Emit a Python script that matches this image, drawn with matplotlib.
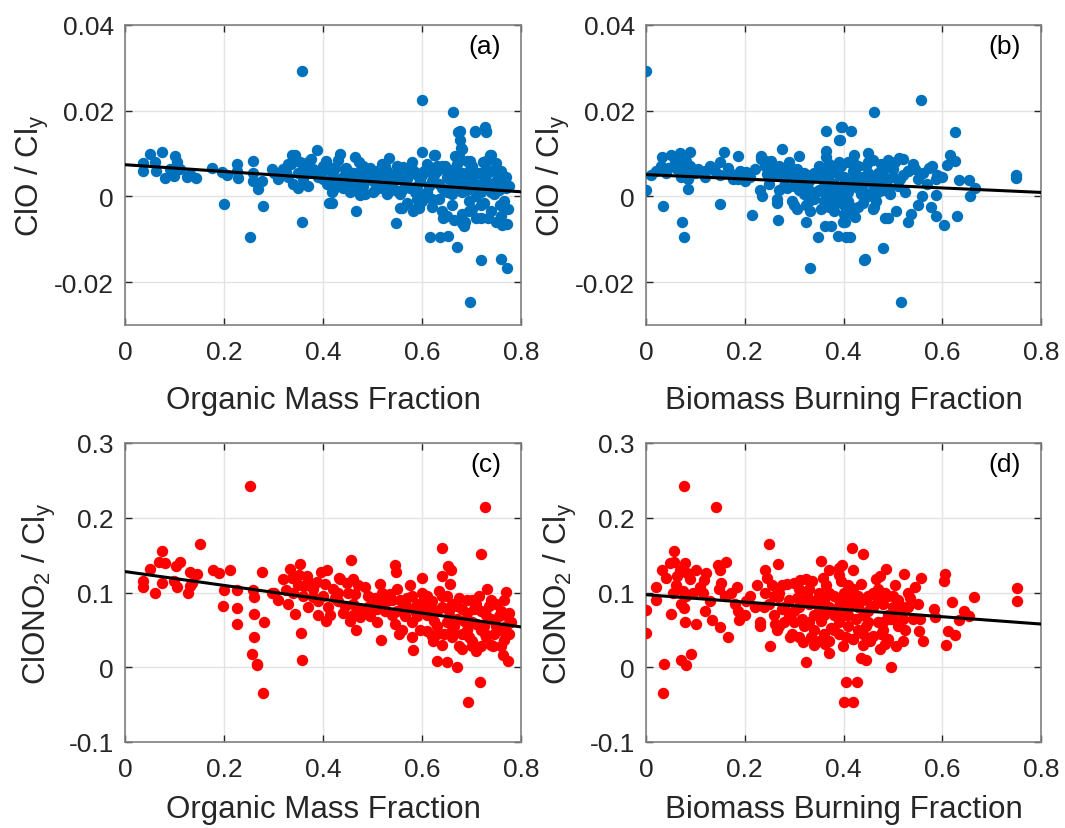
import numpy as np
import matplotlib
matplotlib.use("Agg")
import matplotlib.pyplot as plt

plt.rcParams['font.family'] = ['Liberation Sans', 'DejaVu Sans']
plt.rcParams['mathtext.fontset'] = 'custom'
plt.rcParams['mathtext.rm'] = 'Liberation Sans'
plt.rcParams['mathtext.it'] = 'Liberation Sans'

# ---------------- data ----------------
xticks = [0, 0.2, 0.4, 0.6, 0.8]
xticklabels = ["0", "0.2", "0.4", "0.6", "0.8"]
clo_ticks = [-0.02, 0, 0.02, 0.04]
clo_ticklabels = ["-0.02", "0", "0.02", "0.04"]
clono2_ticks = [-0.1, 0, 0.1, 0.2, 0.3]
clono2_ticklabels = ["-0.1", "0", "0.1", "0.2", "0.3"]

# (a) Organic mass fraction vs ClO/Cly
omf_clo = [
    (0.357, 0.0292), (0.0505, 0.0099), (0.074, 0.0104), (0.101, 0.0094), (0.105, 0.0080),
    (0.036, 0.0077), (0.036, 0.0060), (0.060, 0.0080), (0.063, 0.0060), (0.081, 0.0043),
    (0.091, 0.0064), (0.098, 0.0048), (0.111, 0.0064), (0.125, 0.0046), (0.131, 0.0052),
    (0.143, 0.0044), (0.176, 0.0066), (0.195, 0.0056), (0.200, -0.0018), (0.207, 0.0050),
    (0.226, 0.0076), (0.226, 0.0060), (0.229, 0.0043), (0.253, -0.0095), (0.258, 0.0083),
    (0.259, 0.0054), (0.258, 0.0035), (0.268, 0.0017), (0.277, 0.0035), (0.279, -0.0022),
    (0.296, 0.0064), (0.325, 0.0056), (0.335, 0.0076), (0.338, 0.0097), (0.343, 0.0097),
    (0.354, 0.0080), (0.357, -0.0060), (0.361, 0.0069), (0.361, 0.0050), (0.375, 0.0087),
    (0.387, 0.0108), (0.380, 0.0056), (0.401, 0.0041), (0.407, 0.0083), (0.408, 0.0030),
    (0.413, -0.0016), (0.599, 0.0226), (0.663, 0.0198), (0.676, 0.0152), (0.676, 0.0132),
    (0.680, 0.0111), (0.707, 0.0152), (0.727, 0.0161), (0.730, 0.0152), (0.601, 0.0104),
    (0.624, 0.0097), (0.675, 0.0094), (0.697, 0.0083), (0.738, 0.0097), (0.749, 0.0079),
    (0.730, 0.0082), (0.534, 0.0090), (0.465, 0.0091), (0.473, 0.0081), (0.434, 0.0099),
    (0.431, 0.0085), (0.424, 0.0066), (0.447, 0.0066), (0.495, 0.0066), (0.515, 0.0052),
    (0.562, 0.0066), (0.586, 0.0056), (0.630, 0.0071), (0.650, 0.0060), (0.704, 0.0052),
    (0.764, 0.0037), (0.418, -0.0016), (0.467, -0.0033), (0.475, 0.0003), (0.547, -0.0062),
    (0.555, -0.0027), (0.586, -0.0030), (0.616, -0.0095), (0.636, -0.0094), (0.653, -0.0092),
    (0.670, -0.0119), (0.685, -0.0068), (0.664, -0.0055), (0.719, -0.0148), (0.760, -0.0145),
    (0.771, -0.0168), (0.697, -0.0246), (0.761, -0.0066), (0.772, -0.0064), (0.774, -0.0030),
    (0.763, -0.0020), (0.720, -0.0051), (0.733, -0.0051), (0.680, -0.0063), (0.694, -0.0035),
    (0.593, -0.0026), (0.673, 0.0151), (0.707, 0.0151), (0.729, 0.0151), (0.679, 0.0112),
    (0.626, 0.0097), (0.666, 0.0095), (0.740, 0.0097), (0.723, 0.0080), (0.690, 0.0083),
    (0.646, 0.0070), (0.562, 0.0069), (0.582, -0.0033), (0.559, -0.0028), (0.643, -0.0051),
    (0.687, -0.0060), (0.750, -0.0060), (0.767, -0.0065), (0.770, -0.0026), (0.757, -0.0019),
    (0.418, 0.0010), (0.412, 0.0069), (0.453, 0.0056),
    (0.44, 0.0045), (0.45, 0.0030), (0.46, 0.0055), (0.47, 0.0040), (0.48, 0.0025),
    (0.49, 0.0050), (0.50, 0.0035), (0.51, 0.0060), (0.52, 0.0020), (0.53, 0.0045),
    (0.54, 0.0030), (0.55, 0.0055), (0.56, 0.0015), (0.57, 0.0040), (0.58, 0.0065),
    (0.59, 0.0025), (0.60, 0.0050), (0.61, 0.0010), (0.62, 0.0035), (0.63, 0.0060),
    (0.64, 0.0020), (0.65, 0.0045), (0.66, 0.0005), (0.67, 0.0030), (0.68, 0.0055),
    (0.69, 0.0015), (0.70, 0.0040), (0.71, 0.0000), (0.72, 0.0025), (0.73, 0.0050),
    (0.74, 0.0010), (0.75, 0.0035), (0.76, 0.0060), (0.77, 0.0020),
    (0.445, 0.0065), (0.455, 0.0010), (0.465, 0.0035), (0.475, 0.0060), (0.485, 0.0005),
    (0.495, 0.0040), (0.505, 0.0015), (0.515, 0.0045), (0.525, 0.0070), (0.535, 0.0025),
    (0.545, 0.0050), (0.555, 0.0005), (0.565, 0.0030), (0.575, 0.0055), (0.585, 0.0010),
    (0.595, 0.0035), (0.605, 0.0060), (0.615, 0.0025), (0.625, 0.0050), (0.635, -0.0005),
    (0.645, 0.0015), (0.655, 0.0040), (0.665, 0.0065), (0.675, 0.0020), (0.685, 0.0045),
    (0.695, -0.0010), (0.705, 0.0025), (0.715, 0.0055), (0.725, -0.0015), (0.735, 0.0030),
    (0.745, 0.0005), (0.755, 0.0045), (0.765, -0.0010), (0.775, 0.0025),
    (0.57, -0.0015), (0.60, -0.0010), (0.62, -0.0025), (0.64, -0.0035), (0.66, -0.0020),
    (0.68, -0.0040), (0.70, -0.0030), (0.72, -0.0020), (0.74, -0.0035), (0.76, -0.0045),
    (0.59, -0.0005), (0.65, -0.0045), (0.71, -0.0050),
    (0.30, 0.0055), (0.31, 0.0040), (0.32, 0.0065), (0.33, 0.0045), (0.34, 0.0030),
    (0.35, 0.0055), (0.36, 0.0040), (0.37, 0.0025), (0.38, 0.0065), (0.39, 0.0045),
    (0.40, 0.0060), (0.41, 0.0030), (0.42, 0.0050), (0.43, 0.0035), (0.44, 0.0020),
    (0.33, 0.0075), (0.37, 0.0080), (0.40, 0.0070), (0.35, 0.0020), (0.42, 0.0015),
    (0.455, 0.0050), (0.47, 0.0020), (0.485, 0.0055), (0.50, 0.0010), (0.515, 0.0030),
    (0.53, 0.0060), (0.545, 0.0015), (0.56, 0.0040), (0.575, 0.0020), (0.59, 0.0050),
    (0.605, 0.0005), (0.62, 0.0055), (0.635, 0.0030), (0.65, 0.0010), (0.665, 0.0045),
    (0.68, 0.0010), (0.695, 0.0060), (0.71, 0.0030), (0.725, 0.0045), (0.74, 0.0060),
    (0.755, 0.0015), (0.77, 0.0045), (0.58, 0.0080), (0.61, 0.0075), (0.64, 0.0070),
    (0.67, 0.0075), (0.70, 0.0070), (0.73, 0.0065), (0.52, 0.0075), (0.55, 0.0070),
    (0.62, -0.0005), (0.66, 0.0025), (0.69, 0.0035), (0.72, 0.0010), (0.75, 0.0020),
    (0.53, 0.0005), (0.48, 0.0070),
]

# (b) Biomass burning fraction vs ClO/Cly
bbf_clo = [
    (0.000, 0.0292), (0.000, 0.0015), (0.021, 0.0060), (0.032, 0.0093), (0.050, 0.0097),
    (0.068, 0.0101), (0.090, 0.0103), (0.059, 0.0083), (0.072, 0.0080), (0.082, 0.0083),
    (0.044, 0.0066), (0.062, 0.0064), (0.079, 0.0060), (0.086, 0.0041), (0.085, 0.0017),
    (0.105, 0.0064), (0.119, 0.0060), (0.139, 0.0060), (0.149, 0.0080), (0.157, 0.0103),
    (0.166, 0.0066), (0.176, 0.0041), (0.186, 0.0095), (0.186, 0.0041), (0.203, 0.0056),
    (0.034, -0.0023), (0.072, -0.0060), (0.077, -0.0094), (0.150, -0.0018), (0.214, -0.0043),
    (0.232, 0.0095), (0.232, 0.0087), (0.243, 0.0082), (0.253, 0.0082), (0.275, 0.0110),
    (0.290, 0.0080), (0.309, 0.0095), (0.235, 0.0002), (0.245, 0.0052), (0.267, -0.0054),
    (0.266, -0.0015), (0.300, -0.0019), (0.306, -0.0029), (0.325, -0.0060), (0.333, -0.0035),
    (0.348, -0.0094), (0.333, -0.0168), (0.365, 0.0152), (0.365, 0.0107), (0.365, 0.0092),
    (0.394, 0.0161), (0.391, 0.0132), (0.363, -0.0068), (0.375, -0.0068), (0.389, -0.0092),
    (0.399, -0.0060), (0.406, -0.0094), (0.556, 0.0226), (0.462, 0.0198), (0.396, 0.0161),
    (0.416, 0.0152), (0.393, 0.0132), (0.625, 0.0150), (0.615, 0.0097), (0.625, 0.0082),
    (0.610, 0.0074), (0.574, 0.0066), (0.590, 0.0050), (0.587, 0.0041), (0.750, 0.0051),
    (0.750, 0.0043), (0.633, 0.0038), (0.655, 0.0038), (0.667, 0.0020), (0.656, 0.0001),
    (0.588, 0.0004), (0.558, 0.0001), (0.551, -0.0019), (0.537, -0.0040), (0.530, -0.0060),
    (0.507, -0.0035), (0.484, -0.0050), (0.491, -0.0050), (0.461, -0.0025), (0.424, -0.0047),
    (0.404, -0.0060), (0.413, -0.0094), (0.578, -0.0025), (0.588, -0.0045), (0.604, -0.0066),
    (0.629, -0.0045), (0.480, -0.0120), (0.442, -0.0148), (0.443, -0.0145), (0.517, -0.0246),
    (0.520, 0.0087), (0.513, 0.0090), (0.497, 0.0076), (0.450, 0.0101), (0.421, 0.0097),
    (0.530, 0.0060), (0.545, 0.0064),
    (0.25, 0.0030), (0.26, 0.0050), (0.27, 0.0015), (0.28, 0.0040), (0.29, 0.0060),
    (0.30, 0.0025), (0.31, 0.0045), (0.32, 0.0005), (0.33, 0.0035), (0.34, 0.0055),
    (0.35, 0.0015), (0.36, 0.0040), (0.37, -0.0005), (0.38, 0.0030), (0.39, 0.0050),
    (0.40, 0.0010), (0.41, 0.0035), (0.42, 0.0060), (0.43, 0.0020), (0.44, 0.0045),
    (0.45, 0.0000), (0.46, 0.0030), (0.47, 0.0055), (0.48, 0.0015), (0.49, 0.0040),
    (0.50, 0.0065), (0.51, 0.0025), (0.52, 0.0050),
    (0.255, 0.0065), (0.265, -0.0005), (0.275, 0.0055), (0.285, 0.0020), (0.295, -0.0010),
    (0.305, 0.0065), (0.315, 0.0030), (0.325, -0.0020), (0.335, 0.0050), (0.345, 0.0010),
    (0.355, -0.0030), (0.365, 0.0060), (0.375, 0.0020), (0.385, -0.0015), (0.395, 0.0070),
    (0.405, 0.0025), (0.415, -0.0025), (0.425, 0.0050), (0.435, 0.0005), (0.445, 0.0070),
    (0.455, 0.0040), (0.465, -0.0010), (0.475, 0.0075), (0.485, 0.0035), (0.495, 0.0005),
    (0.505, 0.0080), (0.515, 0.0040), (0.525, 0.0010),
    (0.36, -0.0010), (0.37, 0.0075), (0.38, -0.0035), (0.39, 0.0020), (0.40, -0.0020),
    (0.41, 0.0080), (0.42, -0.0040), (0.43, 0.0070), (0.44, -0.0015), (0.36, 0.0025),
    (0.40, 0.0045), (0.44, 0.0030), (0.48, 0.0060), (0.46, 0.0085), (0.49, 0.0085),
    (0.47, 0.0010), (0.53, 0.0060), (0.54, 0.0075), (0.56, 0.0055), (0.58, 0.0070),
    (0.60, 0.0045), (0.55, 0.0040), (0.57, 0.0030),
    (0.01, 0.0050), (0.03, 0.0070), (0.04, 0.0055), (0.06, 0.0075), (0.07, 0.0045),
    (0.09, 0.0070), (0.10, 0.0055), (0.12, 0.0045), (0.13, 0.0070), (0.15, 0.0050),
    (0.17, 0.0055), (0.19, 0.0060), (0.21, 0.0045), (0.22, 0.0065), (0.24, 0.0070),
    (0.20, 0.0035), (0.23, 0.0015),
    (0.31, 0.0015), (0.32, 0.0055), (0.33, 0.0015), (0.34, -0.0005), (0.35, 0.0045),
    (0.36, 0.0010), (0.37, 0.0050), (0.38, 0.0060), (0.39, -0.0005), (0.40, 0.0030),
    (0.41, 0.0010), (0.42, 0.0025), (0.43, 0.0045), (0.44, 0.0010), (0.45, 0.0055),
    (0.46, 0.0015), (0.47, 0.0035), (0.48, 0.0045), (0.49, 0.0020), (0.50, 0.0045),
    (0.35, 0.0070), (0.39, 0.0080), (0.42, 0.0080), (0.45, 0.0080), (0.33, -0.0010),
    (0.37, -0.0025), (0.41, -0.0010), (0.43, -0.0025), (0.46, -0.0030), (0.40, -0.0040),
    (0.38, 0.0010), (0.30, 0.0040), (0.28, 0.0025), (0.29, 0.0075), (0.27, 0.0070),
]

# (c) Organic mass fraction vs ClONO2/Cly
omf_clono2 = [
    (0.253, 0.243), (0.152, 0.165), (0.075, 0.155), (0.068, 0.141), (0.081, 0.139),
    (0.111, 0.141), (0.104, 0.135), (0.0505, 0.131), (0.131, 0.128), (0.145, 0.125),
    (0.177, 0.130), (0.190, 0.126), (0.213, 0.130), (0.277, 0.127), (0.036, 0.116),
    (0.036, 0.107), (0.060, 0.100), (0.074, 0.113), (0.098, 0.116), (0.105, 0.108),
    (0.128, 0.099), (0.131, 0.109), (0.135, 0.113), (0.200, 0.103), (0.226, 0.103),
    (0.259, 0.103), (0.261, 0.094), (0.296, 0.099), (0.197, 0.082), (0.226, 0.079),
    (0.226, 0.058), (0.261, 0.071), (0.280, 0.060), (0.261, 0.040), (0.256, 0.018),
    (0.267, 0.005), (0.267, 0.003), (0.279, -0.034), (0.325, 0.103), (0.334, 0.132),
    (0.354, 0.138), (0.338, 0.120), (0.352, 0.124), (0.368, 0.122), (0.361, 0.109),
    (0.380, 0.094), (0.396, 0.128), (0.343, 0.071), (0.356, 0.046), (0.357, 0.010),
    (0.407, 0.062), (0.387, 0.114),
    (0.727, 0.214), (0.719, 0.152), (0.640, 0.160), (0.653, 0.135), (0.658, 0.130),
    (0.545, 0.137), (0.547, 0.127), (0.456, 0.143), (0.408, 0.130), (0.432, 0.120),
    (0.460, 0.118), (0.448, 0.113), (0.600, 0.119), (0.640, 0.122), (0.657, 0.112),
    (0.731, 0.105), (0.770, 0.101), (0.467, 0.050), (0.475, 0.067), (0.517, 0.036),
    (0.582, 0.023), (0.630, 0.009), (0.650, 0.007), (0.670, 0.000), (0.717, -0.020),
    (0.692, -0.046), (0.773, 0.008), (0.763, 0.016), (0.775, 0.073), (0.766, 0.036),
    (0.744, 0.029), (0.728, 0.045), (0.701, 0.029), (0.674, 0.029), (0.553, 0.045),
    (0.623, 0.035),
    (0.40, 0.095), (0.41, 0.080), (0.42, 0.105), (0.43, 0.088), (0.44, 0.072),
    (0.45, 0.100), (0.46, 0.085), (0.47, 0.110), (0.48, 0.075), (0.49, 0.095),
    (0.50, 0.082), (0.51, 0.060), (0.52, 0.100), (0.53, 0.088), (0.54, 0.070),
    (0.55, 0.105), (0.56, 0.078), (0.57, 0.092), (0.58, 0.060), (0.59, 0.085),
    (0.60, 0.100), (0.61, 0.070), (0.62, 0.088), (0.63, 0.055), (0.64, 0.080),
    (0.65, 0.095), (0.66, 0.065), (0.67, 0.082), (0.68, 0.045), (0.69, 0.072),
    (0.70, 0.090), (0.71, 0.058), (0.72, 0.075), (0.73, 0.040), (0.74, 0.065),
    (0.75, 0.085), (0.76, 0.050), (0.77, 0.070), (0.78, 0.060),
    (0.405, 0.112), (0.415, 0.070), (0.425, 0.092), (0.435, 0.118), (0.445, 0.082),
    (0.455, 0.062), (0.465, 0.098), (0.475, 0.078), (0.485, 0.108), (0.495, 0.068),
    (0.505, 0.092), (0.515, 0.112), (0.525, 0.075), (0.535, 0.098), (0.545, 0.058),
    (0.555, 0.090), (0.565, 0.068), (0.575, 0.110), (0.585, 0.075), (0.595, 0.050),
    (0.605, 0.092), (0.615, 0.080), (0.625, 0.062), (0.635, 0.102), (0.645, 0.045),
    (0.655, 0.075), (0.665, 0.055), (0.675, 0.092), (0.685, 0.062), (0.695, 0.040),
    (0.705, 0.078), (0.715, 0.095), (0.725, 0.055), (0.735, 0.082), (0.745, 0.045),
    (0.755, 0.068), (0.765, 0.090), (0.775, 0.045),
    (0.58, 0.040), (0.61, 0.048), (0.64, 0.030), (0.66, 0.040), (0.68, 0.025),
    (0.70, 0.035), (0.72, 0.028), (0.74, 0.030), (0.62, 0.042), (0.69, 0.050),
    (0.71, 0.022), (0.76, 0.028), (0.56, 0.050),
    (0.36, 0.095), (0.37, 0.080), (0.38, 0.105), (0.39, 0.088), (0.35, 0.110),
    (0.34, 0.100), (0.33, 0.085), (0.37, 0.115), (0.39, 0.070), (0.30, 0.100),
    (0.31, 0.090), (0.32, 0.118),
    (0.43, 0.100), (0.46, 0.070), (0.49, 0.080), (0.52, 0.085), (0.55, 0.075),
    (0.58, 0.095), (0.60, 0.080), (0.61, 0.095), (0.63, 0.075), (0.65, 0.060),
    (0.66, 0.085), (0.67, 0.065), (0.68, 0.078), (0.70, 0.060), (0.71, 0.085),
    (0.72, 0.050), (0.73, 0.070), (0.74, 0.090), (0.75, 0.055), (0.76, 0.075),
    (0.77, 0.055), (0.59, 0.068), (0.62, 0.078), (0.64, 0.095), (0.69, 0.090),
    (0.57, 0.080), (0.54, 0.090), (0.51, 0.078), (0.63, 0.045), (0.66, 0.050),
]

# (d) Biomass burning fraction vs ClONO2/Cly
bbf_clono2 = [
    (0.077, 0.243), (0.142, 0.214), (0.250, 0.165), (0.000, 0.076), (0.000, 0.046),
    (0.020, 0.107), (0.032, 0.130), (0.049, 0.140), (0.057, 0.155), (0.057, 0.141),
    (0.079, 0.140), (0.068, 0.130), (0.083, 0.126), (0.062, 0.122), (0.055, 0.100),
    (0.075, 0.102), (0.095, 0.100), (0.102, 0.130), (0.118, 0.117), (0.122, 0.126),
    (0.115, 0.100), (0.145, 0.137), (0.149, 0.130), (0.162, 0.141), (0.152, 0.113),
    (0.147, 0.105), (0.172, 0.099), (0.185, 0.108), (0.050, 0.071), (0.077, 0.079),
    (0.079, 0.061), (0.102, 0.058), (0.134, 0.063), (0.150, 0.054), (0.167, 0.041),
    (0.187, 0.075), (0.188, 0.063), (0.202, 0.088), (0.036, 0.005), (0.034, -0.034),
    (0.070, 0.010), (0.082, 0.003), (0.091, 0.018), (0.225, 0.110), (0.240, 0.130),
    (0.245, 0.120), (0.230, 0.060), (0.238, 0.080), (0.251, 0.029), (0.267, 0.138),
    (0.276, 0.110), (0.267, 0.094), (0.262, 0.058), (0.300, 0.113), (0.312, 0.117),
    (0.326, 0.097), (0.325, 0.007), (0.336, 0.115), (0.354, 0.142), (0.358, 0.120),
    (0.370, 0.130), (0.390, 0.133), (0.391, 0.124), (0.370, 0.019), (0.399, 0.029),
    (0.405, -0.020), (0.400, -0.046), (0.292, 0.040), (0.317, 0.034), (0.350, 0.035),
    (0.363, 0.031),
    (0.417, 0.160), (0.440, 0.152), (0.486, 0.132), (0.523, 0.125), (0.474, 0.122),
    (0.397, 0.137), (0.420, 0.130), (0.557, 0.119), (0.605, 0.125), (0.603, 0.116),
    (0.665, 0.094), (0.751, 0.106), (0.751, 0.089), (0.619, 0.087), (0.644, 0.075),
    (0.654, 0.068), (0.633, 0.063), (0.584, 0.078), (0.585, 0.067), (0.612, 0.049),
    (0.625, 0.043), (0.608, 0.030), (0.560, 0.035), (0.553, 0.048), (0.555, 0.065),
    (0.507, 0.029), (0.497, 0.000), (0.473, 0.025), (0.446, 0.010), (0.435, 0.013),
    (0.427, -0.020), (0.419, -0.046), (0.485, 0.031), (0.453, 0.035), (0.420, 0.038),
    (0.25, 0.085), (0.26, 0.070), (0.27, 0.100), (0.28, 0.060), (0.29, 0.090),
    (0.30, 0.075), (0.31, 0.105), (0.32, 0.055), (0.33, 0.085), (0.34, 0.070),
    (0.35, 0.100), (0.36, 0.045), (0.37, 0.080), (0.38, 0.095), (0.39, 0.060),
    (0.40, 0.085), (0.41, 0.070), (0.42, 0.105), (0.43, 0.050), (0.44, 0.090),
    (0.45, 0.075), (0.46, 0.100), (0.47, 0.060), (0.48, 0.085), (0.49, 0.070),
    (0.50, 0.095), (0.51, 0.055), (0.52, 0.080), (0.53, 0.100), (0.54, 0.065),
    (0.55, 0.085),
    (0.255, 0.110), (0.265, 0.050), (0.275, 0.078), (0.285, 0.112), (0.295, 0.045),
    (0.305, 0.092), (0.315, 0.065), (0.325, 0.118), (0.335, 0.040), (0.345, 0.090),
    (0.355, 0.062), (0.365, 0.110), (0.375, 0.052), (0.385, 0.078), (0.395, 0.115),
    (0.405, 0.040), (0.415, 0.092), (0.425, 0.065), (0.435, 0.112), (0.445, 0.055),
    (0.455, 0.082), (0.465, 0.118), (0.475, 0.045), (0.485, 0.100), (0.495, 0.065),
    (0.505, 0.110), (0.515, 0.075), (0.525, 0.050), (0.535, 0.092), (0.545, 0.108),
    (0.31, 0.040), (0.34, 0.030), (0.37, 0.035), (0.39, 0.045), (0.42, 0.038),
    (0.44, 0.030), (0.46, 0.042), (0.49, 0.038), (0.52, 0.035), (0.33, 0.060),
    (0.38, 0.070), (0.41, 0.055), (0.43, 0.080), (0.47, 0.090), (0.50, 0.080),
    (0.36, 0.090), (0.40, 0.100), (0.45, 0.060),
    (0.02, 0.090), (0.04, 0.120), (0.06, 0.110), (0.08, 0.095), (0.09, 0.118),
    (0.11, 0.108), (0.13, 0.088), (0.16, 0.095), (0.18, 0.085), (0.20, 0.070),
    (0.21, 0.095), (0.22, 0.080), (0.23, 0.055), (0.24, 0.100), (0.12, 0.075),
    (0.07, 0.085),
    (0.26, 0.095), (0.28, 0.080), (0.30, 0.060), (0.32, 0.090), (0.33, 0.105),
    (0.35, 0.080), (0.36, 0.070), (0.37, 0.100), (0.38, 0.050), (0.39, 0.090),
    (0.40, 0.070), (0.41, 0.110), (0.42, 0.085), (0.43, 0.095), (0.44, 0.070),
    (0.45, 0.095), (0.46, 0.080), (0.47, 0.105), (0.48, 0.060), (0.49, 0.095),
    (0.50, 0.065), (0.51, 0.090), (0.52, 0.065), (0.53, 0.080), (0.34, 0.050),
    (0.44, 0.045), (0.48, 0.050), (0.31, 0.080), (0.29, 0.070), (0.27, 0.055),
]

# linear fits (intercept, slope)
fit_a = (0.0074, -0.0079)
fit_b = (0.0051, -0.0052)
fit_c = (0.128, -0.0925)
fit_d = (0.097, -0.049)

panel_labels = ["(a)", "(b)", "(c)", "(d)"]
xlabels = ["Organic Mass Fraction", "Biomass Burning Fraction",
           "Organic Mass Fraction", "Biomass Burning Fraction"]
ylabel_clo = "ClO / Cl$_\\mathregular{y}$"
ylabel_clono2 = "ClONO$_\\mathregular{2}$ / Cl$_\\mathregular{y}$"

# ---------------- figure ----------------
W, H = 1065, 829
fig = plt.figure(figsize=(W / 100, H / 100), dpi=100)

def ax_rect(l, r, t, b):
    return [l / W, 1 - b / H, (r - l) / W, (b - t) / H]

rects = [ax_rect(125, 521, 26, 326), ax_rect(646, 1041, 26, 326),
         ax_rect(125, 521, 444, 743), ax_rect(646, 1041, 444, 743)]
datasets = [omf_clo, bbf_clo, omf_clono2, bbf_clono2]
fits = [fit_a, fit_b, fit_c, fit_d]
colors = ['#0072BD', '#0072BD', '#FF0000', '#FF0000']
txt_col = '#262626'

for i in range(4):
    ax = fig.add_axes(rects[i])
    pts = np.array(datasets[i])
    ax.plot(pts[:, 0], pts[:, 1], 'o', color=colors[i], markersize=8.2,
            markeredgewidth=0, zorder=3)
    xl = np.array([0.0, 0.8])
    b0, b1 = fits[i]
    ax.plot(xl, b0 + b1 * xl, '-', color='black', linewidth=2.2, zorder=4)
    ax.set_xlim(0, 0.8)
    ax.set_xticks(xticks)
    ax.set_xticklabels(xticklabels)
    if i < 2:
        ax.set_ylim(-0.03, 0.04)
        ax.set_yticks(clo_ticks)
        ax.set_yticklabels(clo_ticklabels)
        ax.set_ylabel(ylabel_clo, fontsize=22.5, color=txt_col, labelpad=2)
        ax.set_xlabel(xlabels[i], fontsize=22.5, color=txt_col, labelpad=15)
    else:
        ax.set_ylim(-0.1, 0.3)
        ax.set_yticks(clono2_ticks)
        ax.set_yticklabels(clono2_ticklabels)
        ax.set_ylabel(ylabel_clono2, fontsize=22.5, color=txt_col, labelpad=8)
        ax.set_xlabel(xlabels[i], fontsize=22.5, color=txt_col, labelpad=9)
    ax.grid(True, color='#e3e3e3', linewidth=1.0, zorder=0)
    ax.set_axisbelow(True)
    ax.tick_params(direction='in', top=True, right=True, labelsize=19,
                   colors=txt_col, length=5, width=1)
    ax.tick_params(axis='x', pad=11)
    ax.tick_params(axis='y', pad=8)
    for sp in ax.spines.values():
        sp.set_color('#808080')
        sp.set_linewidth(1.2)
    ax.text(0.95, 0.93, panel_labels[i], transform=ax.transAxes, ha='right',
            va='center', fontsize=19, color='black')

fig.savefig('out.png', dpi=100)
